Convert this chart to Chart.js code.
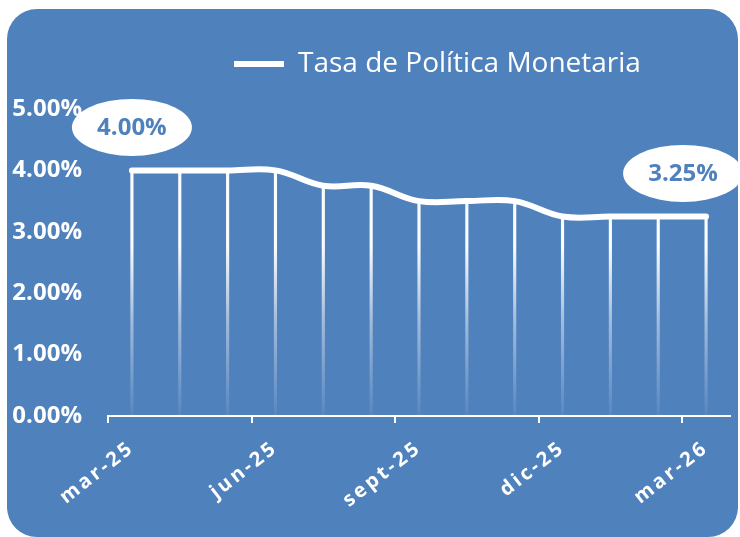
<!DOCTYPE html>
<html>
<head>
<meta charset="utf-8">
<script src="https://cdn.jsdelivr.net/npm/chart.js@4.4.1/dist/chart.umd.min.js"></script>
<style>
  html, body { margin: 0; padding: 0; background: #ffffff; }
  #card { position: absolute; left: 7px; top: 9px; width: 731px; height: 528px; border-radius: 30px; background: #4F81BD; }
  #wrap { position: absolute; left: 0; top: 0; width: 740px; height: 537px; }
</style>
</head>
<body>
<div id="card"></div>
<div id="wrap"><canvas id="c" width="740" height="537"></canvas></div>
<script>
// ---- data ----
const months = ['mar-25','abr-25','may-25','jun-25','jul-25','ago-25','sept-25','oct-25','nov-25','dic-25','ene-26','feb-26','mar-26'];
const rateValues = [4.00, 4.00, 4.00, 4.00, 3.75, 3.75, 3.50, 3.50, 3.50, 3.25, 3.25, 3.25, 3.25];
const yTicks = [0, 1, 2, 3, 4, 5];
const seriesName = 'Tasa de Política Monetaria';

const BLUE = '#4F81BD';
const FONT = "'Open Sans', 'DejaVu Sans', sans-serif";

const LEGEND_START_X = 234;
const legendShift = {
  id: 'legendShift',
  afterLayout(chart) {
    const lg = chart.legend;
    if (!lg || !lg.lineWidths) return;
    const p = lg.options.labels.padding;
    const start = (lg.left + p + lg.right - lg.lineWidths[0]) / 2;
    const dx = LEGEND_START_X - start;
    lg.left += dx; lg.right += dx;
  }
};

const spacedLabels = {
  id: 'spacedLabels',
  afterLayout(chart) {
    const s = chart.scales.x;
    if (s && !s._spacedWrapped) {
      const orig = s.drawLabels;
      s.drawLabels = function (area) {
        const ctx = this.ctx;
        ctx.save();
        ctx.letterSpacing = '3px';
        orig.call(this, area);
        ctx.restore();
      };
      s._spacedWrapped = true;
    }
  }
};

const bubbles = {
  id: 'bubbles',
  afterDraw(chart) {
    const ctx = chart.ctx;
    const meta = chart.getDatasetMeta(0);
    const pts = meta.data;
    const items = [
      { p: pts[0], dx: 0, dy: -43, v: rateValues[0] },
      { p: pts[pts.length - 1], dx: -23, dy: -43, v: rateValues[rateValues.length - 1] }
    ];
    ctx.save();
    items.forEach(it => {
      const cx = it.p.x + it.dx, cy = it.p.y + it.dy;
      ctx.beginPath();
      ctx.ellipse(cx, cy, 60, 28.5, 0, 0, Math.PI * 2);
      ctx.fillStyle = '#ffffff';
      ctx.fill();
      ctx.fillStyle = BLUE;
      ctx.font = "bold 24px " + FONT;
      ctx.textAlign = 'center';
      ctx.textBaseline = 'middle';
      ctx.fillText(it.v.toFixed(2) + '%', cx, cy + 1);
    });
    ctx.restore();
  }
};

function dropGradient(context) {
  const chart = context.chart;
  const area = chart.chartArea;
  if (!area) return 'rgba(255,255,255,0.8)';
  const g = chart.ctx.createLinearGradient(0, area.bottom, 0, area.top);
  g.addColorStop(0, 'rgba(255,255,255,0.05)');
  g.addColorStop(0.3, 'rgba(255,255,255,0.45)');
  g.addColorStop(0.55, 'rgba(255,255,255,0.97)');
  g.addColorStop(1, 'rgba(255,255,255,1)');
  return g;
}

new Chart(document.getElementById('c'), {
  data: {
    labels: months,
    datasets: [
      {
        type: 'line',
        label: seriesName,
        data: rateValues,
        borderColor: '#ffffff',
        backgroundColor: '#ffffff',
        borderWidth: 6,
        borderCapStyle: 'round',
        borderJoinStyle: 'round',
        tension: 0.4,
        pointRadius: 0,
        pointStyle: 'line',
        fill: false,
        order: 0
      },
      {
        type: 'bar',
        label: 'drop',
        data: rateValues,
        backgroundColor: dropGradient,
        barThickness: 2.5,
        order: 1
      }
    ]
  },
  options: {
    responsive: false,
    animation: false,
    events: [],
    layout: { padding: { left: 0, right: 10, top: 30, bottom: 0 } },
    plugins: {
      tooltip: { enabled: false },
      title: {
        display: true,
        text: '',
        weight: 500,
        position: 'top',
        font: { size: 10, lineHeight: 1.2 },
        padding: 4.5
      },
      legend: {
        display: true,
        position: 'top',
        align: 'center',
        weight: 1000,
        labels: {
          color: '#ffffff',
          font: { family: FONT, size: 28 },
          usePointStyle: true,
          pointStyle: 'line',
          pointStyleWidth: 50,
          padding: 20,
          filter: item => item.datasetIndex === 0
        }
      }
    },
    scales: {
      x: {
        type: 'category',
        offset: true,
        grid: {
          offset: true,
          drawOnChartArea: false,
          drawTicks: true,
          tickLength: 7,
          lineWidth: 2,
          color: ctx => (ctx.index % 3 === 0 && ctx.index < months.length) ? '#ffffff' : 'rgba(0,0,0,0)'
        },
        border: { display: true, color: '#ffffff', width: 2 },
        ticks: {
          autoSkip: false,
          minRotation: 38,
          maxRotation: 38,
          padding: 13,
          color: '#ffffff',
          font: { family: FONT, size: 20, weight: 'bold' },
          callback: (v, i) => (i % 3 === 0 ? months[i] : '')
        },
        afterFit: s => { s.height = 121; }
      },
      y: {
        type: 'linear',
        min: yTicks[0],
        max: yTicks[yTicks.length - 1],
        grid: { display: false, drawTicks: false },
        border: { display: false },
        afterBuildTicks: s => { s.ticks = yTicks.map(v => ({ value: v })); },
        ticks: {
          padding: 26,
          color: '#ffffff',
          font: { family: FONT, size: 24, weight: 'bold' },
          callback: v => Number(v).toFixed(2) + '%'
        },
        afterFit: s => { s.width = 108; }
      }
    }
  },
  plugins: [legendShift, spacedLabels, bubbles]
});
</script>
</body>
</html>
